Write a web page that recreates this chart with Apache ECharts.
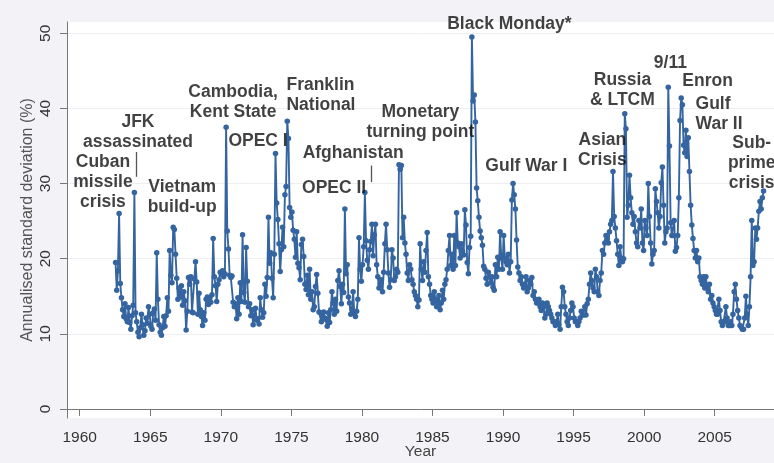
<!DOCTYPE html>
<html>
<head>
<meta charset="utf-8">
<script src="https://cdn.jsdelivr.net/npm/echarts@6/dist/echarts.min.js"></script>
<style>
  html, body { margin: 0; padding: 0; background: #f3f2f6; }
  #chart { width: 774px; height: 463px; }
</style>
</head>
<body>
<div id="chart"></div>
<script>
// monthly volatility, first value = July 1962
const startYear = 1962;
const startMonth = 7;

const volatility = [
  19.5, 15.8, 18.4, 26.0, 16.7, 14.8,                               // 1962 (Jul-Dec)
  13.2, 12.3, 14.0, 12.0, 11.6, 13.5, 11.5, 10.6, 12.4, 13.8, 28.8, 12.8, // 1963
  11.6, 10.2, 9.6, 10.8, 12.6, 11.2, 9.8, 10.4, 12.1, 11.4, 13.6, 12.6,   // 1964
  11.0, 10.6, 12.8, 13.3, 11.8, 20.8, 14.6, 11.2, 10.2, 9.8, 10.8, 12.3,  // 1965
  11.0, 12.4, 14.8, 13.0, 21.1, 17.8, 16.8, 24.2, 23.9, 20.6, 17.4, 14.6, // 1966
  16.1, 14.9, 16.4, 13.8, 15.6, 14.4, 10.5, 13.0, 17.5, 16.6, 17.6, 12.9, // 1967
  12.8, 17.3, 19.6, 16.9, 12.6, 15.4, 13.2, 12.3, 11.1, 12.8, 11.8, 14.6, // 1968
  14.9, 13.9, 14.8, 14.2, 15.2, 22.7, 17.6, 16.4, 14.3, 16.6, 17.2, 18.2, // 1969
  17.9, 18.4, 17.6, 18.0, 37.5, 23.7, 21.3, 17.8, 17.5, 17.7, 14.2, 13.6, // 1970
  14.0, 12.0, 14.8, 12.6, 16.8, 14.3, 23.2, 15.5, 14.2, 21.5, 17.0, 13.6, // 1971
  14.0, 12.4, 13.2, 11.2, 12.5, 13.4, 11.8, 12.0, 11.3, 14.8, 13.2, 12.2, // 1972
  12.8, 16.6, 15.0, 17.5, 25.5, 19.4, 20.8, 17.4, 14.8, 20.6, 34.0, 27.4, // 1973
  25.2, 22.0, 18.3, 21.2, 24.2, 21.6, 28.5, 29.6, 38.3, 36.0, 26.8, 25.5, // 1974
  26.2, 23.8, 22.6, 20.2, 23.6, 19.4, 18.8, 17.2, 21.9, 22.6, 20.3, 16.6, // 1975
  15.9, 17.8, 15.2, 18.6, 14.6, 15.6, 13.2, 13.6, 16.3, 17.9, 15.4, 12.9, // 1976
  12.8, 11.6, 12.4, 12.9, 12.1, 11.9, 11.0, 12.8, 11.5, 13.2, 15.6, 14.1, // 1977
  12.6, 14.6, 13.0, 17.1, 18.4, 16.3, 14.0, 16.6, 15.5, 26.6, 18.0, 19.2, // 1978
  14.9, 14.1, 12.6, 13.3, 15.6, 12.8, 12.3, 13.0, 14.6, 22.8, 18.6, 17.0, // 1979
  19.2, 21.6, 28.8, 22.4, 19.8, 18.6, 21.2, 22.3, 24.6, 20.4, 23.2, 24.6, // 1980
  19.2, 17.6, 16.1, 16.6, 17.2, 15.6, 18.2, 22.0, 24.6, 21.2, 18.1, 16.2, // 1981
  17.2, 21.2, 20.1, 17.1, 17.6, 18.6, 18.2, 32.5, 31.9, 32.4, 22.8, 25.5, // 1982
  22.1, 20.6, 18.1, 17.1, 19.2, 18.6, 17.2, 16.6, 15.6, 15.1, 14.6, 13.6, // 1983
  14.5, 22.0, 18.6, 17.1, 19.6, 18.2, 21.1, 23.5, 17.6, 16.6, 15.1, 14.6, // 1984
  14.1, 15.6, 14.6, 13.6, 14.1, 15.1, 13.2, 14.1, 15.8, 14.6, 16.6, 17.2, // 1985
  18.6, 21.1, 23.1, 19.1, 20.6, 18.6, 23.1, 19.1, 26.1, 22.1, 21.6, 20.1, // 1986
  22.0, 21.0, 20.5, 26.5, 24.5, 19.5, 18.0, 21.5, 23.0, 49.5, 41.0, 41.8, // 1987
  38.2, 29.4, 27.7, 25.5, 23.7, 22.8, 21.8, 19.0, 18.6, 17.4, 16.6, 18.2, // 1988
  17.6, 16.8, 17.6, 16.2, 15.8, 19.2, 17.6, 20.2, 18.6, 23.6, 20.1, 18.6, // 1989
  23.1, 20.1, 19.6, 19.2, 20.6, 18.1, 19.6, 27.8, 30.0, 28.5, 26.6, 22.5, // 1990
  18.9, 18.1, 17.1, 17.6, 16.6, 16.1, 16.6, 17.6, 15.6, 16.1, 17.1, 16.6, // 1991
  17.5, 15.1, 15.6, 14.6, 14.1, 14.1, 14.6, 13.6, 13.1, 14.1, 13.6, 12.1, // 1992
  12.6, 14.1, 13.6, 13.1, 12.6, 12.1, 11.6, 11.6, 11.1, 11.6, 12.6, 11.2, // 1993
  10.6, 13.6, 16.2, 15.6, 13.6, 12.6, 11.6, 11.1, 12.1, 13.1, 14.1, 13.6, // 1994
  12.1, 11.6, 11.6, 11.1, 11.6, 12.1, 13.0, 12.5, 12.5, 13.6, 12.5, 14.0, // 1995
  14.6, 16.6, 18.1, 17.1, 16.1, 15.6, 18.6, 17.6, 15.6, 15.1, 17.1, 18.1, // 1996
  21.1, 20.6, 22.1, 23.1, 22.6, 22.1, 23.6, 24.6, 25.1, 31.6, 25.6, 24.1, // 1997
  22.4, 20.6, 19.1, 21.6, 20.1, 19.6, 20.0, 39.3, 37.3, 25.5, 27.1, 31.1, // 1998
  28.1, 26.1, 24.6, 25.6, 23.6, 22.1, 21.6, 25.1, 24.1, 26.6, 22.1, 21.1, // 1999
  25.1, 24.1, 23.1, 30.0, 25.6, 22.1, 19.3, 20.6, 21.1, 29.3, 27.6, 26.1, // 2000
  24.1, 25.6, 30.1, 32.2, 27.1, 22.1, 23.6, 24.1, 42.8, 35.0, 24.8, 23.1, // 2001
  23.1, 25.1, 21.0, 21.5, 23.1, 28.1, 38.4, 41.4, 40.5, 35.1, 34.1, 37.1, // 2002
  33.6, 36.1, 31.6, 27.1, 24.5, 22.7, 21.1, 20.1, 21.1, 19.6, 20.1, 17.6, // 2003
  17.1, 16.6, 17.6, 16.1, 17.6, 16.1, 15.6, 16.6, 14.6, 15.1, 14.1, 13.6, // 2004
  13.1, 12.6, 12.6, 14.6, 13.1, 11.6, 11.1, 11.6, 11.6, 13.6, 12.1, 11.1, // 2005
  11.1, 11.6, 11.1, 12.6, 15.6, 16.6, 14.6, 13.1, 12.1, 11.1, 10.9, 10.6, // 2006
  10.6, 12.1, 15.0, 12.6, 11.1, 13.6, 17.6, 25.1, 19.1, 19.6, 24.1, 22.6, // 2007
  24.1, 26.3, 27.6, 26.6, 28.1, 29.0                                // 2008 (Jan-Jun)
];

const xTicks = [1960, 1965, 1970, 1975, 1980, 1985, 1990, 1995, 2000, 2005];
const yTicks = [0, 10, 20, 30, 40, 50];

const eventNames = [
  'Cuban\nmissile\ncrisis', 'JFK\nassassinated', 'Vietnam\nbuild-up',
  'Cambodia,\nKent State', 'OPEC I', 'Franklin\nNational', 'Afghanistan',
  'OPEC II', 'Monetary\nturning point', 'Black Monday*', 'Gulf War I',
  'Asian\nCrisis', 'Russia\n& LTCM', '9/11', 'Enron', 'Gulf\nWar II',
  'Sub-\nprime\ncrisis'
];

const points = volatility.map(function (v, i) {
  return [startYear + (startMonth - 1 + i + 0.5) / 12, v];
});

// where each label sits, in (year, value) and how it is aligned
const labelSpots = [
  [1961.65, 30.2, 'center'], [1964.13, 36.8, 'center'], [1967.26, 28.2, 'center'],
  [1970.87, 40.8, 'center'], [1972.64, 35.6, 'center'], [1974.65, 41.7, 'left'],
  [1979.38, 34.0, 'center'], [1978.03, 29.4, 'center'], [1984.14, 38.2, 'center'],
  [1990.45, 51.2, 'center'], [1991.65, 32.3, 'center'], [1997.04, 34.4, 'center'],
  [1998.46, 42.4, 'center'], [2001.86, 46.0, 'center'], [2002.7, 43.6, 'left'],
  [2003.64, 39.2, 'left'], [2007.62, 32.7, 'center']
];

const labelData = eventNames.map(function (name, i) {
  const s = labelSpots[i];
  return {
    value: [s[0], s[1]],
    label: { formatter: name, align: s[2] }
  };
});

const chart = echarts.init(document.getElementById('chart'));

const option = {
  animation: false,
  backgroundColor: '#f3f2f6',
  grid: {
    left: 67, right: 0, top: 22, bottom: 45,
    outerBoundsMode: 'none',
    show: true, backgroundColor: '#ffffff', borderWidth: 0
  },
  xAxis: {
    type: 'value',
    min: 1959.1, max: 2009.2,
    name: 'Year', nameLocation: 'middle', nameGap: 26, nameMoveOverlap: false,
    nameTextStyle: { fontFamily: 'Liberation Sans', fontSize: 15.5, color: '#444' },
    axisLine: { lineStyle: { color: '#777', width: 1 } },
    axisTick: { customValues: xTicks, length: 7, lineStyle: { color: '#777' } },
    axisLabel: {
      customValues: xTicks, margin: 12,
      formatter: function (v) { return String(v); },
      fontFamily: 'Liberation Sans', fontSize: 15.5, color: '#333'
    },
    splitLine: { show: false }
  },
  yAxis: {
    type: 'value',
    min: -1.2, max: 51.5,
    name: 'Annualised standard deviation (%)',
    nameLocation: 'middle', nameGap: 31, nameRotate: 90, nameMoveOverlap: false,
    nameTextStyle: { fontFamily: 'Liberation Sans', fontSize: 16, color: '#555' },
    axisLine: { show: true, lineStyle: { color: '#777', width: 1 } },
    axisTick: { show: true, customValues: yTicks, length: 7, lineStyle: { color: '#777' } },
    axisLabel: {
      customValues: yTicks, rotate: 90, margin: 13,
      fontFamily: 'Liberation Sans', fontSize: 15.5, color: '#333'
    },
    splitLine: { show: true, lineStyle: { color: '#eeedf2', width: 1 } }
  },
  series: [
    {
      type: 'line',
      data: points,
      symbol: 'circle',
      symbolSize: 5.5,
      showAllSymbol: true,
      lineStyle: { color: '#3565a0', width: 1.9 },
      itemStyle: { color: '#3565a0' },
      z: 3,
      markLine: {
        silent: true,
        symbol: 'none',
        lineStyle: { color: '#555', width: 1.3, type: 'solid' },
        label: { show: false },
        data: [
          [{ coord: [1964.0, 34.2] }, { coord: [1964.0, 30.9] }],
          [{ coord: [1980.66, 32.4] }, { coord: [1980.66, 30.2] }]
        ]
      }
    },
    {
      type: 'scatter',
      data: labelData,
      symbolSize: 0,
      silent: true,
      z: 5,
      label: {
        show: true,
        position: 'inside',
        fontFamily: 'Liberation Sans',
        fontWeight: 'bold',
        fontSize: 17.5,
        lineHeight: 20,
        color: '#111'
      }
    }
  ]
};

chart.setOption(option);
</script>
</body>
</html>
